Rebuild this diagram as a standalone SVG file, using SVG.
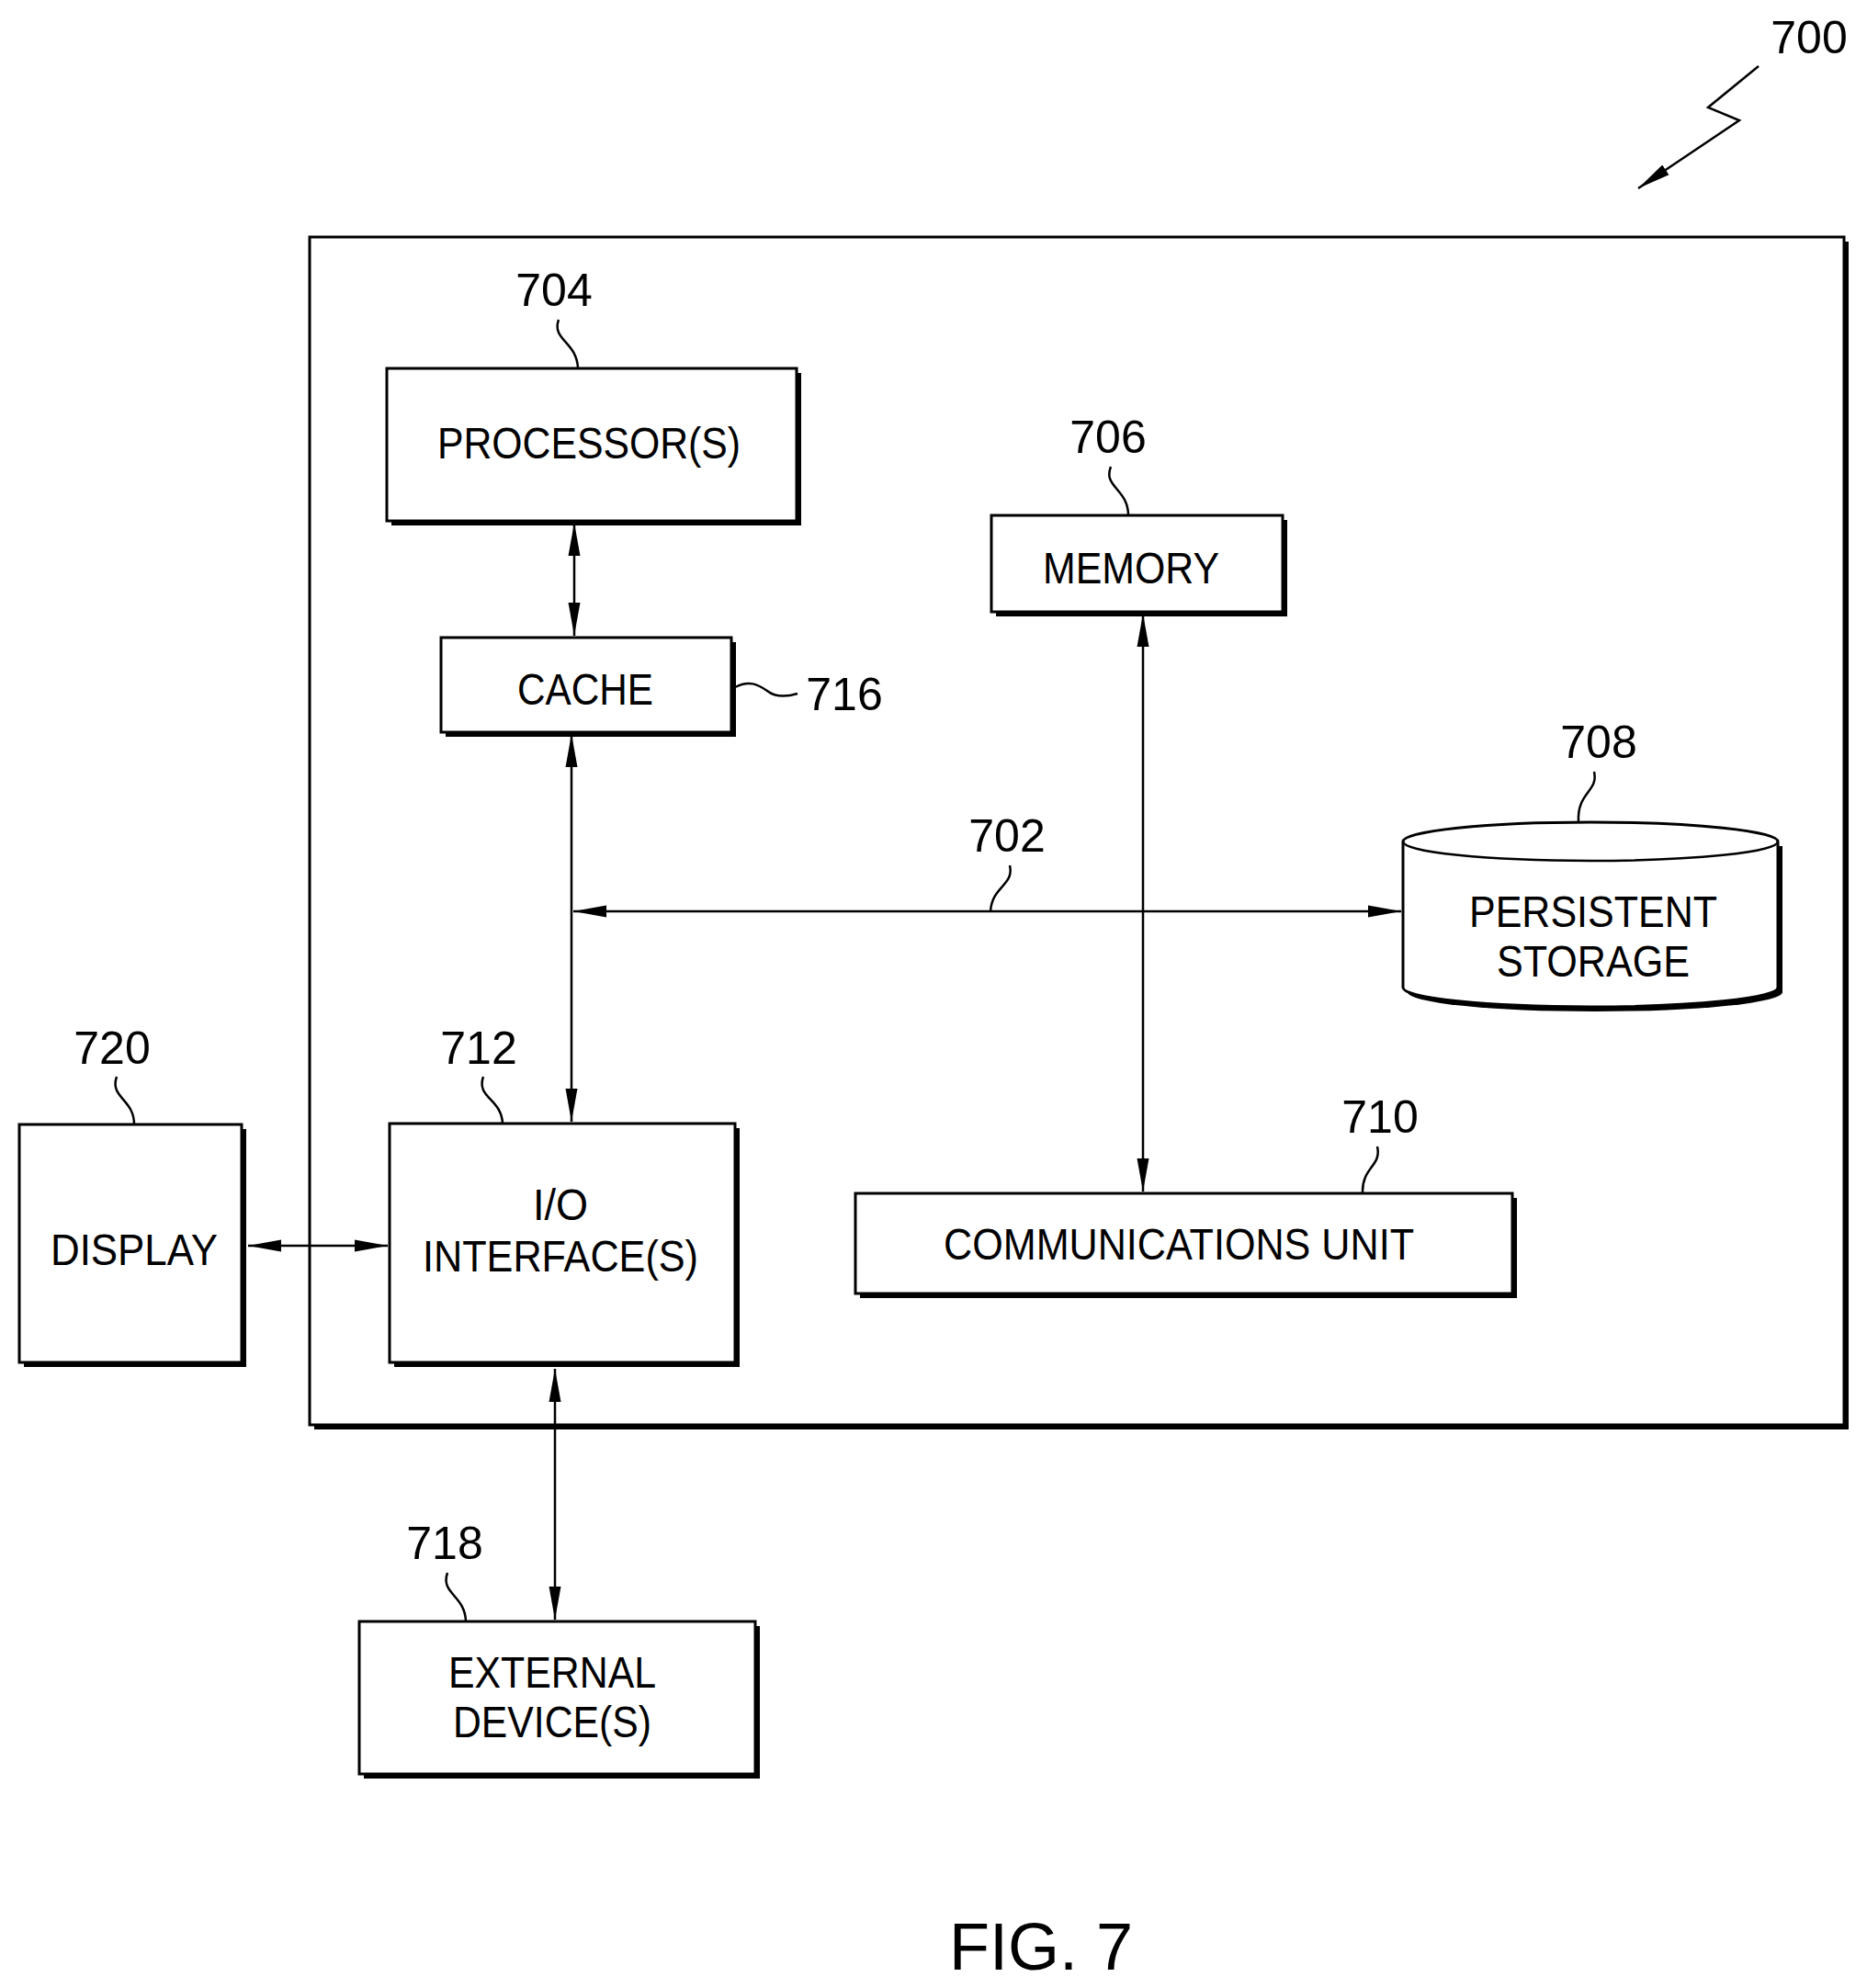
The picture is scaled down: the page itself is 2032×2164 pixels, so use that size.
<svg xmlns="http://www.w3.org/2000/svg" width="2032" height="2164" viewBox="0 0 2032 2164">
<style>
.b{fill:#fff;stroke:#000;stroke-width:3}
.s{fill:#000}
.t{font-family:"Liberation Sans",Arial,sans-serif;font-size:48px;text-anchor:middle}
.n{font-family:"Liberation Sans",Arial,sans-serif;font-size:50px;text-anchor:middle}
.c{fill:none;stroke:#000;stroke-width:2.5}
.q{fill:none;stroke:#000;stroke-width:2.5}
</style>
<defs>
<marker id="a" viewBox="0 0 10 10" refX="10" refY="5" markerWidth="12" markerHeight="12" markerUnits="userSpaceOnUse" orient="auto-start-reverse"><path d="M0,2 L10,5 L0,8 z" fill="#000"/></marker>
<marker id="ah" viewBox="0 0 10 10" refX="10" refY="5" markerWidth="36" markerHeight="36" markerUnits="userSpaceOnUse" orient="auto-start-reverse"><path d="M0,3.2 L10,5 L0,6.8 z" fill="#000"/></marker>
</defs>
<rect width="2032" height="2164" fill="#fff"/>
<g id="n700">
<text class="n" x="1969" y="58">700</text>
<path class="q" d="M1914,72 L1859,117 L1893,131 L1783,205" marker-end="url(#ah)"/>
</g>
<g id="outer"><rect class="s" x="342" y="263" width="1670" height="1293"/><rect class="b" x="337" y="258" width="1670" height="1293"/></g>
<g id="processor">
<rect class="s" x="426" y="406" width="446" height="166"/><rect class="b" x="421" y="401" width="446" height="166"/>
<text class="t" x="641" y="499" textLength="330" lengthAdjust="spacingAndGlyphs">PROCESSOR(S)</text>
<text class="n" x="603" y="333">704</text>
<path class="q" d="M608,348 C600,370 628,372 629,401"/>
</g>
<g id="memory">
<rect class="s" x="1084" y="566" width="317" height="105"/><rect class="b" x="1079" y="561" width="317" height="105"/>
<text class="t" x="1231" y="635" textLength="192" lengthAdjust="spacingAndGlyphs">MEMORY</text>
<text class="n" x="1206" y="493">706</text>
<path class="q" d="M1209,508 C1200,530 1228,532 1228,561"/>
</g>
<g id="cache">
<rect class="s" x="485" y="699" width="316" height="103"/><rect class="b" x="480" y="694" width="316" height="103"/>
<text class="t" x="637" y="767" textLength="148" lengthAdjust="spacingAndGlyphs">CACHE</text>
<text class="n" x="919" y="773">716</text>
<path class="q" d="M800,748 C815,740 825,745 835,752 C845,760 858,758 868,755"/>
</g>
<g id="storage">
<path class="s" d="M1532,921 L1532,1080 A204,21 0 0 0 1940,1080 L1940,921 z"/>
<path class="b" d="M1527,916 L1527,1075 A204,21 0 0 0 1935,1075 L1935,916 A204,21 0 0 0 1527,916 z"/>
<path class="c" d="M1527,916 A204,21 0 0 0 1935,916"/>
<text class="t" x="1734" y="1009" textLength="270" lengthAdjust="spacingAndGlyphs">PERSISTENT</text>
<text class="t" x="1734" y="1063" textLength="210" lengthAdjust="spacingAndGlyphs">STORAGE</text>
<text class="n" x="1740" y="825">708</text>
<path class="q" d="M1735,840 C1740,862 1716,862 1718,895"/>
</g>
<g id="io">
<rect class="s" x="429" y="1228" width="376" height="260"/><rect class="b" x="424" y="1223" width="376" height="260"/>
<text class="t" x="610" y="1328" textLength="60" lengthAdjust="spacingAndGlyphs">I/O</text>
<text class="t" x="610" y="1384" textLength="300" lengthAdjust="spacingAndGlyphs">INTERFACE(S)</text>
<text class="n" x="521" y="1158">712</text>
<path class="q" d="M526,1172 C518,1195 546,1196 547,1223"/>
</g>
<g id="comm">
<rect class="s" x="936" y="1304" width="715" height="109"/><rect class="b" x="931" y="1299" width="715" height="109"/>
<text class="t" x="1283" y="1371" textLength="512" lengthAdjust="spacingAndGlyphs">COMMUNICATIONS UNIT</text>
<text class="n" x="1502" y="1233">710</text>
<path class="q" d="M1499,1248 C1504,1270 1482,1270 1483,1299"/>
</g>
<g id="display">
<rect class="s" x="26" y="1229" width="242" height="259"/><rect class="b" x="21" y="1224" width="242" height="259"/>
<text class="t" x="146" y="1377" textLength="182" lengthAdjust="spacingAndGlyphs">DISPLAY</text>
<text class="n" x="122" y="1158">720</text>
<path class="q" d="M127,1172 C119,1195 146,1196 146,1224"/>
</g>
<g id="external">
<rect class="s" x="396" y="1770" width="431" height="166"/><rect class="b" x="391" y="1765" width="431" height="166"/>
<text class="t" x="601" y="1837" textLength="226" lengthAdjust="spacingAndGlyphs">EXTERNAL</text>
<text class="t" x="601" y="1891" textLength="216" lengthAdjust="spacingAndGlyphs">DEVICE(S)</text>
<text class="n" x="484" y="1697">718</text>
<path class="q" d="M487,1712 C479,1735 506,1736 507,1765"/>
</g>
<g id="connectors">
<line class="c" x1="625" y1="569" x2="625" y2="692" marker-start="url(#ah)" marker-end="url(#ah)"/>
<line class="c" x1="622" y1="799" x2="622" y2="1221" marker-start="url(#ah)" marker-end="url(#ah)"/>
<line class="c" x1="624" y1="992" x2="1525" y2="992" marker-start="url(#ah)" marker-end="url(#ah)"/>
<line class="c" x1="1244" y1="668" x2="1244" y2="1297" marker-start="url(#ah)" marker-end="url(#ah)"/>
<line class="c" x1="270" y1="1356" x2="422" y2="1356" marker-start="url(#ah)" marker-end="url(#ah)"/>
<line class="c" x1="604" y1="1490" x2="604" y2="1763" marker-start="url(#ah)" marker-end="url(#ah)"/>
<text class="n" x="1096" y="927">702</text>
<path class="q" d="M1099,942 C1104,964 1080,964 1078,992"/>
</g>
<text x="1133" y="2144" font-family="Liberation Sans,Arial,sans-serif" font-size="72" text-anchor="middle">FIG. 7</text>
</svg>
